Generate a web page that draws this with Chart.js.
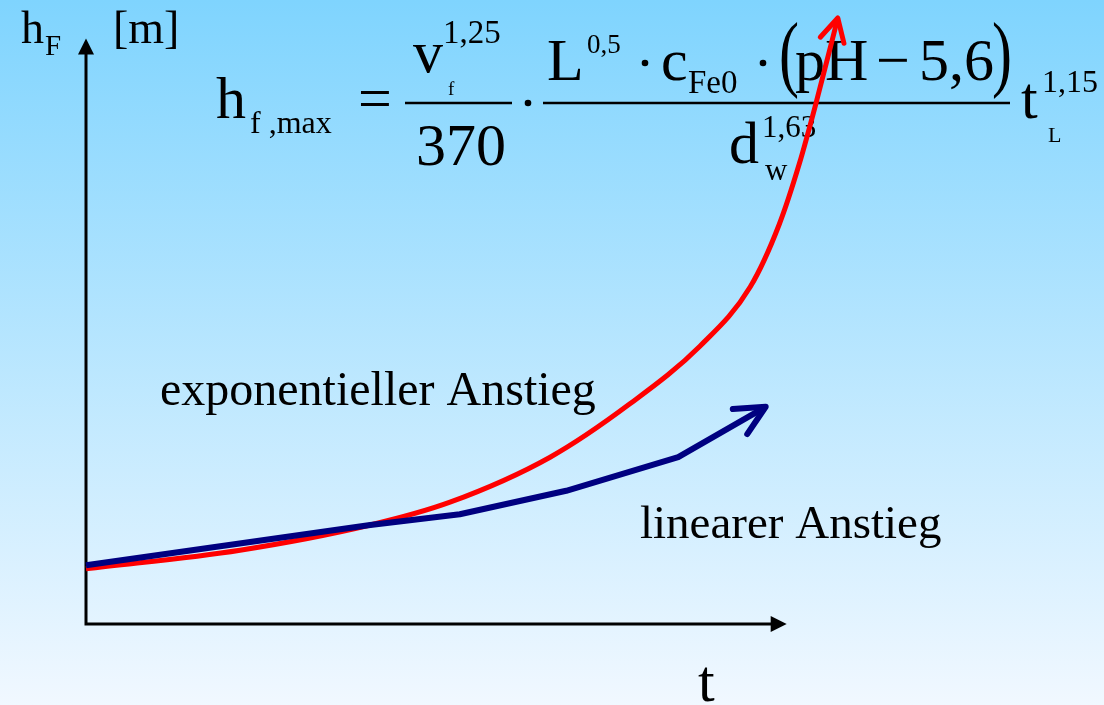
<!DOCTYPE html>
<html>
<head>
<meta charset="utf-8">
<script src="https://cdn.jsdelivr.net/npm/chart.js@4/dist/chart.umd.min.js"></script>
<style>
  html, body { margin: 0; padding: 0; background: #f0f8ff; }
  #wrap { width: 1104px; height: 705px; }
</style>
</head>
<body>
<div id="wrap"><canvas id="c" width="1104" height="705"></canvas></div>
<script>
// time axis t (arbitrary units) and height h_F [m]
const linearT = [0, 4.06, 5.34, 6.86, 8.46, 9.71];
const linearH = [0.98, 1.65, 1.83, 2.22, 2.78, 3.62];

const expT = [0, 2.2, 4.06, 5.2, 6.63, 7.77, 8.77, 9.49, 9.9, 10.19, 10.44, 10.74];
const expH = [0.92, 1.23, 1.65, 2.03, 2.78, 3.67, 4.63, 5.62, 6.65, 7.67, 8.73, 10.1];

const seriesLabels = ['linearer Anstieg', 'exponentieller Anstieg'];
const axisLabelY = 'h';
const axisLabelYSub = 'F';
const axisUnitY = '[m]';
const axisLabelX = 't';

const toPoints = (xs, ys) => xs.map((x, i) => ({ x: x, y: ys[i] }));

const SERIF = '"Liberation Serif", "Times New Roman", serif';

function txt(ctx, s, x, y, size) {
  ctx.font = size + 'px ' + SERIF;
  ctx.fillText(s, x, y);
}

// stretched parenthesis centred on cy
function paren(ctx, s, x, cy, size, sy) {
  ctx.save();
  ctx.translate(x, cy);
  ctx.scale(1, sy);
  ctx.font = size + 'px ' + SERIF;
  ctx.fillText(s, 0, size * 0.25);
  ctx.restore();
}

function dot(ctx, x, y) {
  ctx.beginPath();
  ctx.arc(x, y, 3.3, 0, Math.PI * 2);
  ctx.fill();
}

function bar(ctx, x1, x2, y) {
  ctx.save();
  ctx.lineWidth = 2.5;
  ctx.beginPath();
  ctx.moveTo(x1, y);
  ctx.lineTo(x2, y);
  ctx.stroke();
  ctx.restore();
}

const backdrop = {
  id: 'backdrop',
  beforeDraw(chart) {
    const ctx = chart.ctx;
    const g = ctx.createLinearGradient(0, 0, 0, chart.height);
    g.addColorStop(0, '#7fd4fe');
    g.addColorStop(1, '#f1f8ff');
    ctx.save();
    ctx.fillStyle = g;
    ctx.fillRect(0, 0, chart.width, chart.height);
    ctx.restore();
  },
  beforeDatasetsDraw(chart) {
    const ctx = chart.ctx;
    const xs = chart.scales.x, ys = chart.scales.y;
    const ox = xs.getPixelForValue(0), oy = ys.getPixelForValue(0);
    const xEnd = xs.getPixelForValue(10.01);
    const yEnd = ys.getPixelForValue(9.76);
    ctx.save();
    ctx.strokeStyle = '#000';
    ctx.fillStyle = '#000';
    ctx.lineWidth = 3;
    ctx.beginPath();
    ctx.moveTo(ox, oy + 1.5);
    ctx.lineTo(ox, yEnd + 14);
    ctx.moveTo(ox - 1.5, oy);
    ctx.lineTo(xEnd - 14, oy);
    ctx.stroke();
    // arrow tips of the axes
    ctx.beginPath();
    ctx.moveTo(ox, yEnd);
    ctx.lineTo(ox - 8, yEnd + 16);
    ctx.lineTo(ox + 8, yEnd + 16);
    ctx.closePath();
    ctx.fill();
    ctx.beginPath();
    ctx.moveTo(xEnd, oy);
    ctx.lineTo(xEnd - 16, oy - 8);
    ctx.lineTo(xEnd - 16, oy + 8);
    ctx.closePath();
    ctx.fill();

    // axis labels
    ctx.textBaseline = 'alphabetic';
    txt(ctx, axisLabelY, 21, 43, 46);
    txt(ctx, axisLabelYSub, 45, 55, 29);
    txt(ctx, axisUnitY, 113, 43, 46);
    txt(ctx, axisLabelX, 698, 701, 60);

    // series captions
    txt(ctx, seriesLabels[1], 160, 405, 48);
    txt(ctx, seriesLabels[0], 640, 538, 47);

    // formula for the maximum height
    txt(ctx, 'h', 216, 118, 60);
    txt(ctx, 'f ,max', 250, 133, 32);
    txt(ctx, '=', 358, 118, 60);
    bar(ctx, 405, 512, 103);
    txt(ctx, 'v', 413, 72, 60);
    txt(ctx, '1,25', 443, 43, 33);
    txt(ctx, 'f', 448, 95, 19);
    txt(ctx, '370', 416, 165, 60);
    dot(ctx, 528, 103);
    bar(ctx, 543, 1010, 103);
    txt(ctx, 'L', 547, 80, 60);
    txt(ctx, '0,5', 587, 53, 27);
    dot(ctx, 645, 63);
    txt(ctx, 'c', 661, 80, 60);
    txt(ctx, 'Fe0', 688, 93, 33);
    dot(ctx, 763, 63);
    paren(ctx, '(', 779, 60, 60, 1.42);
    txt(ctx, 'pH', 795, 80, 60);
    txt(ctx, '\u2212', 876, 80, 60);
    txt(ctx, '5,6', 919, 80, 60);
    paren(ctx, ')', 992, 60, 60, 1.42);
    txt(ctx, 'd', 729, 163, 60);
    txt(ctx, '1,63', 762, 137, 31);
    txt(ctx, 'w', 765, 180, 31);
    txt(ctx, 't', 1021, 118, 60);
    txt(ctx, '1,15', 1042, 92, 32);
    txt(ctx, 'L', 1048, 142, 22);
    ctx.restore();
  },
  afterDatasetsDraw(chart) {
    const ctx = chart.ctx;
    const heads = [
      { idx: 0, len: 33, ang: 26, w: 6 },
      { idx: 1, len: 26, ang: 28, w: 5 }
    ];
    ctx.save();
    ctx.lineCap = 'round';
    ctx.lineJoin = 'round';
    heads.forEach(h => {
      const pts = chart.getDatasetMeta(h.idx).data;
      const a = pts[pts.length - 1], b = pts[pts.length - 2];
      const back = Math.atan2(b.y - a.y, b.x - a.x);
      const r = h.ang * Math.PI / 180;
      ctx.strokeStyle = chart.data.datasets[h.idx].borderColor;
      ctx.lineWidth = h.w;
      ctx.beginPath();
      ctx.moveTo(a.x + h.len * Math.cos(back + r), a.y + h.len * Math.sin(back + r));
      ctx.lineTo(a.x, a.y);
      ctx.lineTo(a.x + h.len * Math.cos(back - r), a.y + h.len * Math.sin(back - r));
      ctx.stroke();
    });
    ctx.restore();
  }
};

new Chart(document.getElementById('c'), {
  type: 'line',
  data: {
    datasets: [
      {
        label: seriesLabels[0],
        data: toPoints(linearT, linearH),
        borderColor: '#000080',
        borderWidth: 6,
        tension: 0,
        pointRadius: 0,
        borderJoinStyle: 'round',
        clip: false
      },
      {
        label: seriesLabels[1],
        data: toPoints(expT, expH),
        borderColor: '#ff0000',
        borderWidth: 5,
        cubicInterpolationMode: 'monotone',
        pointRadius: 0,
        borderJoinStyle: 'round',
        clip: false
      }
    ]
  },
  options: {
    responsive: false,
    animation: false,
    layout: { padding: { left: 86, right: 178, top: 24, bottom: 81 } },
    plugins: { legend: { display: false }, tooltip: { enabled: false } },
    scales: {
      x: { type: 'linear', min: 0, max: 12, display: false },
      y: { type: 'linear', min: 0, max: 10, display: false }
    }
  },
  plugins: [backdrop]
});
</script>
</body>
</html>
